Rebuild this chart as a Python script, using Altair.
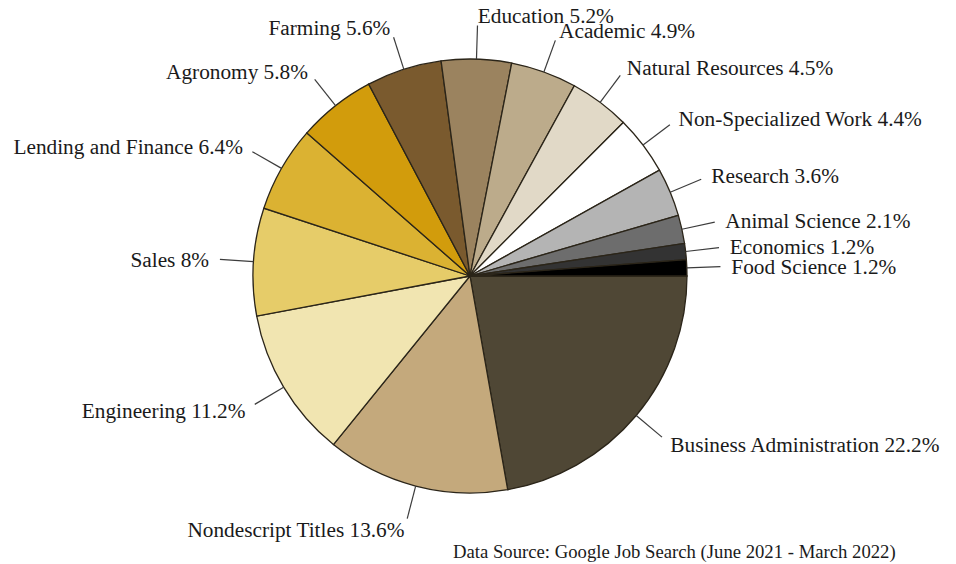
import math
import altair as alt
import pandas as pd

# ---- data ----
categories = ["Business Administration", "Nondescript Titles", "Engineering", "Sales",
              "Lending and Finance", "Agronomy", "Farming", "Education", "Academic",
              "Natural Resources", "Non-Specialized Work", "Research", "Animal Science",
              "Economics", "Food Science"]
shares = [22.2, 13.6, 11.2, 8, 6.4, 5.8, 5.6, 5.2, 4.9, 4.5, 4.4, 3.6, 2.1, 1.2, 1.2]
colors = ["#4f4735", "#c4a97c", "#f1e5b1", "#e6cc69", "#dbb232", "#d29c0c", "#7a5a2e",
          "#9b835f", "#bcab8b", "#e1d9c7", "#ffffff", "#b4b4b4", "#6d6d6d", "#333333", "#000000"]
caption = ["Data Source: Google Job Search (June 2021 - March 2022)"]

# ---- layout ----
PAD_TOP = 6
W, H = 924, 524
R = 217
FONT = "Liberation Serif"

df = pd.DataFrame({
    "category": categories,
    "share": [float(s) for s in shares],
    "order": list(range(len(categories))),
    "label": [f"{c} {float(s):g}%" for c, s in zip(categories, shares)],
})

pie = alt.Chart(df).mark_arc(radius=R, stroke="#2b2519", strokeWidth=1.3).encode(
    theta=alt.Theta("share:Q", stack=True,
                    scale=alt.Scale(range=[math.pi / 2, math.pi / 2 + 2 * math.pi])),
    color=alt.Color("category:N", scale=alt.Scale(domain=categories, range=colors), legend=None),
    order=alt.Order("order:Q"),
)

geo = alt.Chart(df).transform_window(
    cum="sum(share)", sort=[alt.SortField("order")], frame=[None, 0]
).transform_joinaggregate(
    total="sum(share)"
).transform_calculate(
    ang="2*PI*(datum.cum - datum.share/2)/datum.total"
).transform_calculate(
    ux="cos(datum.ang)", uy="-sin(datum.ang)"
).transform_calculate(
    x0="datum.ux", y0="datum.uy",
    x1="1.155*datum.ux", y1="1.155*datum.uy",
    lx="1.205*datum.ux", ly="1.205*datum.uy",
)

xs = alt.Scale(domain=[-W / 2 / R, W / 2 / R], nice=False, zero=False)
ys = alt.Scale(domain=[-H / 2 / R, H / 2 / R], nice=False, zero=False)

rules = geo.mark_rule(stroke="#3c3c3c", strokeWidth=1.2).encode(
    x=alt.X("x0:Q", scale=xs, axis=None),
    y=alt.Y("y0:Q", scale=ys, axis=None),
    x2="x1:Q",
    y2="y1:Q",
)

text_style = dict(baseline="middle", font=FONT, fontSize=21.3, color="#1a1a1a", dy=2)

labels_right = geo.transform_filter("datum.ux >= 0").mark_text(align="left", **text_style).encode(
    x=alt.X("lx:Q", scale=xs, axis=None),
    y=alt.Y("ly:Q", scale=ys, axis=None),
    text="label:N",
)
labels_left = geo.transform_filter("datum.ux < 0").mark_text(align="right", **text_style).encode(
    x=alt.X("lx:Q", scale=xs, axis=None),
    y=alt.Y("ly:Q", scale=ys, axis=None),
    text="label:N",
)

cap = alt.Chart(pd.DataFrame({"t": caption})).mark_text(
    align="left", baseline="middle", font=FONT, fontSize=18.7, color="#1a1a1a"
).encode(x=alt.value(445), y=alt.value(544 - PAD_TOP), text="t:N")

chart = alt.layer(pie, rules, labels_right, labels_left, cap).properties(
    width=W, height=H,
    autosize=alt.AutoSizeParams(type="none"),
    padding={"left": 0, "top": PAD_TOP, "right": 16, "bottom": 26},
).configure_view(stroke=None)

chart.save("out.html", embed_options={"renderer": "svg", "actions": False})
